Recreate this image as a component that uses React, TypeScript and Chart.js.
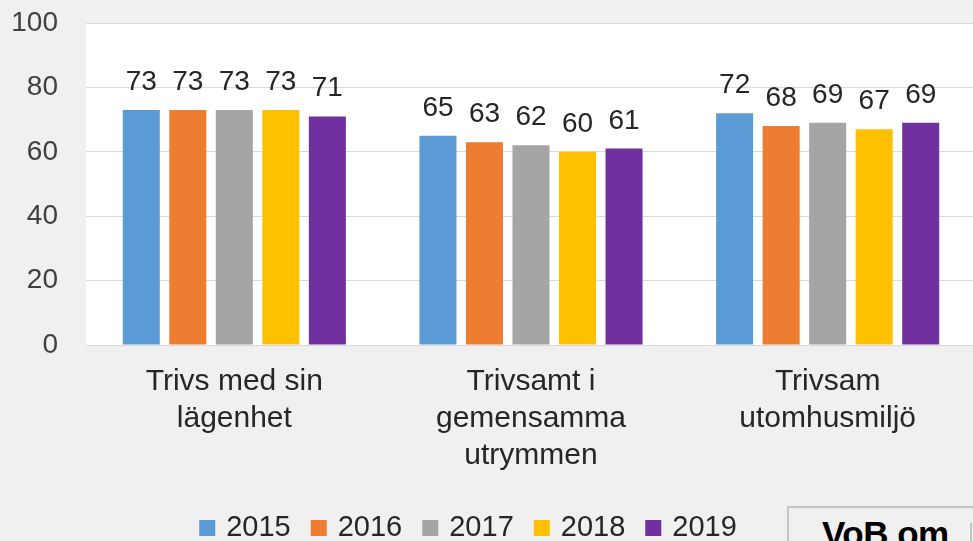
import React, { useEffect, useRef } from "react";
import { Chart, registerables } from "chart.js";

Chart.register(...registerables);

const categories: string[][] = [
  ["Trivs med sin", "lägenhet"],
  ["Trivsamt i", "gemensamma", "utrymmen"],
  ["Trivsam", "utomhusmiljö"],
];
const years = ["2015", "2016", "2017", "2018", "2019"];
const values2015 = [73, 65, 72];
const values2016 = [73, 63, 68];
const values2017 = [73, 62, 69];
const values2018 = [73, 60, 67];
const values2019 = [71, 61, 69];
const seriesColors = ["#5b9bd5", "#ed7d31", "#a5a5a5", "#ffc000", "#7030a0"];
const yTicks = [0, 20, 40, 60, 80, 100];

const FONT = "'Liberation Sans', Arial, sans-serif";

const plotBg = {
  id: "plotBg",
  beforeDraw(chart: any) {
    const { ctx, chartArea } = chart;
    ctx.save();
    ctx.fillStyle = "#ffffff";
    ctx.fillRect(chartArea.left, chartArea.top, chartArea.right - chartArea.left, chartArea.bottom - chartArea.top);
    ctx.restore();
  },
};

const dataLabels = {
  id: "dataLabels",
  afterDatasetsDraw(chart: any) {
    const { ctx } = chart;
    ctx.save();
    ctx.font = `28px ${FONT}`;
    ctx.fillStyle = "#262626";
    ctx.textAlign = "center";
    ctx.textBaseline = "alphabetic";
    chart.data.datasets.forEach((ds: any, i: number) => {
      const meta = chart.getDatasetMeta(i);
      meta.data.forEach((bar: any, j: number) => {
        ctx.fillText(String(ds.data[j]), bar.x, bar.y - 20);
      });
    });
    ctx.restore();
  },
};

const customLegend = {
  id: "customLegend",
  afterDraw(chart: any) {
    const { ctx } = chart;
    ctx.save();
    ctx.font = `29px ${FONT}`;
    ctx.textBaseline = "middle";
    ctx.textAlign = "left";
    const box = 16;
    const gapBox = 11;
    const gapItem = 20;
    const items = chart.data.datasets.map((ds: any) => ({
      label: ds.label,
      color: ds.backgroundColor,
      w: ctx.measureText(ds.label).width,
    }));
    let total = 0;
    items.forEach((it: any, k: number) => {
      total += box + gapBox + it.w + (k < items.length - 1 ? gapItem : 0);
    });
    const cx = 468;
    const cy = 528;
    let x = cx - total / 2;
    items.forEach((it: any) => {
      ctx.fillStyle = it.color;
      ctx.fillRect(x, cy - box / 2, box, box);
      x += box + gapBox;
      ctx.fillStyle = "#262626";
      ctx.fillText(it.label, x, cy);
      x += it.w + gapItem;
    });
    ctx.restore();
  },
};

export default function App() {
  const canvasRef = useRef<HTMLCanvasElement | null>(null);

  useEffect(() => {
    document.body.style.margin = "0";
    document.body.style.background = "#f0f0f0";
    const canvas = canvasRef.current;
    if (!canvas) return;
    const seriesValues = [values2015, values2016, values2017, values2018, values2019];
    const chart = new Chart(canvas, {
      type: "bar",
      data: {
        labels: categories,
        datasets: years.map((y, i) => ({
          label: y,
          data: seriesValues[i],
          backgroundColor: seriesColors[i],
          borderWidth: 0,
          categoryPercentage: 0.784,
          barPercentage: 0.796,
        })),
      },
      options: {
        animation: false,
        responsive: false,
        maintainAspectRatio: false,
        layout: { padding: { top: 23, right: 4, left: 0, bottom: 0 } },
        plugins: {
          legend: { display: false },
          tooltip: { enabled: false },
        },
        scales: {
          x: {
            grid: { display: false, drawTicks: false },
            border: { display: false },
            ticks: {
              font: { family: FONT, size: 30, lineHeight: 1.23 },
              color: "#262626",
              padding: 18,
              maxRotation: 0,
              autoSkip: false,
            },
            afterFit(scale: any) {
              scale.height = 196;
              scale.paddingLeft = 0;
              scale.paddingRight = 0;
            },
          },
          y: {
            min: 0,
            max: 100,
            afterBuildTicks(scale: any) {
              scale.ticks = yTicks.map((v) => ({ value: v }));
            },
            grid: { color: "#d9d9d9", lineWidth: 1, drawTicks: false },
            border: { display: false },
            ticks: {
              font: { family: FONT, size: 28 },
              color: "#404040",
              padding: 28,
            },
            afterFit(scale: any) {
              scale.width = 86;
              scale.paddingTop = 0;
              scale.paddingBottom = 0;
            },
          },
        },
      },
      plugins: [plotBg, dataLabels, customLegend],
    });
    return () => chart.destroy();
  }, []);

  return (
    <div style={{ position: "relative", width: 973, height: 541, overflow: "hidden", background: "#f0f0f0" }}>
      <canvas ref={canvasRef} width={980} height={541} style={{ position: "absolute", left: 0, top: 0, width: 980, height: 541 }} />
      <div
        style={{
          position: "absolute",
          left: 787,
          top: 506,
          width: 300,
          height: 60,
          border: "2px solid #c4c4c4",
          boxSizing: "border-box",
          background: "#f0f0f0",
          fontFamily: FONT,
          fontWeight: "bold",
          fontSize: 35,
          color: "#000",
          paddingLeft: 33,
          paddingTop: 6,
          whiteSpace: "nowrap",
          lineHeight: "40px",
          letterSpacing: "-0.5px",
        }}
      >
        VoB om
      </div>
      <div style={{ position: "absolute", left: 970, top: 523, width: 2, height: 18, background: "#c4c4c4" }} />
    </div>
  );
}
